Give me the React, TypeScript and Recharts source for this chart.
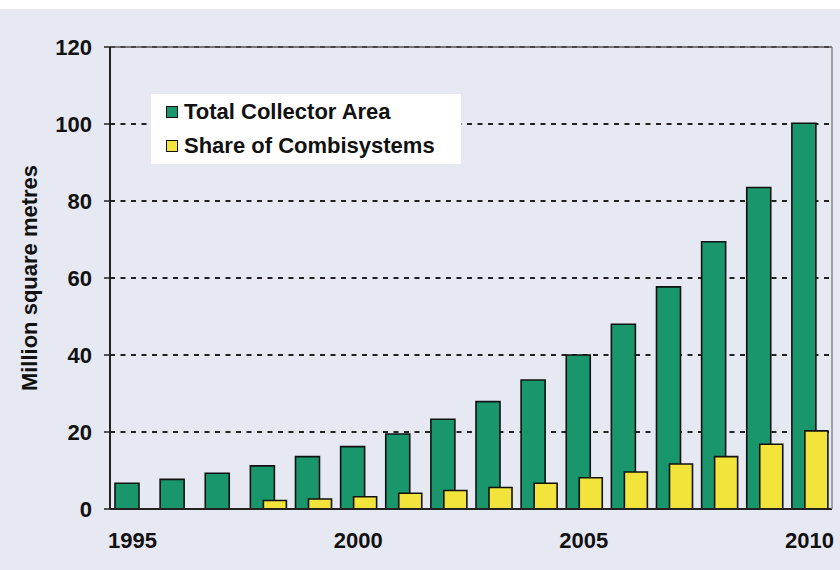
import {
  BarChart,
  Bar,
  XAxis,
  YAxis,
  CartesianGrid,
  ReferenceLine,
} from "recharts";

const years = [
  1995, 1996, 1997, 1998, 1999, 2000, 2001, 2002,
  2003, 2004, 2005, 2006, 2007, 2008, 2009, 2010,
];

const totalArea = [
  6.7, 7.7, 9.3, 11.2, 13.6, 16.2, 19.5, 23.3,
  27.9, 33.5, 40, 48, 57.7, 69.4, 83.5, 100.2,
];

const combiShare = [
  null, null, null, 2.2, 2.6, 3.2, 4.1, 4.8,
  5.6, 6.7, 8.1, 9.6, 11.7, 13.6, 16.8, 20.3,
];

const yTicks = [0, 20, 40, 60, 80, 100, 120];

const GREEN = "#19966c";
const YELLOW = "#f2e43a";
const FONT = "'Liberation Sans', Arial, sans-serif";

const legendItems = [
  { name: "Total Collector Area", color: GREEN },
  { name: "Share of Combisystems", color: YELLOW },
];

function LegendBox() {
  return (
    <div
      style={{
        position: "absolute",
        left: 151,
        top: 94,
        background: "#fff",
        width: 310,
        height: 70,
        padding: "2px 0 0 15px",
        boxSizing: "border-box",
        fontFamily: FONT,
        fontWeight: "bold",
        fontSize: 22,
        color: "#111",
      }}
    >
      {legendItems.map((item) => (
        <div
          key={item.name}
          style={{ display: "flex", alignItems: "center", height: 32, marginBottom: 2 }}
        >
          <span
            style={{
              display: "inline-block",
              width: 10,
              height: 10,
              background: item.color,
              border: "1.5px solid #111",
              marginRight: 6,
            }}
          />
          {item.name}
        </div>
      ))}
    </div>
  );
}

function YLabel() {
  return (
    <text
      x={29}
      y={278}
      transform="rotate(-90, 29, 278)"
      textAnchor="middle"
      dominantBaseline="central"
      fill="#111"
      fontSize={22}
      fontWeight="bold"
      fontFamily={FONT}
    >
      Million square metres
    </text>
  );
}

export default function App() {
  const data = years.map((year, i) => ({
    year,
    total: totalArea[i],
    combi: combiShare[i],
  }));

  return (
    <div
      style={{
        position: "absolute",
        top: 0,
        left: 0,
        width: 840,
        height: 570,
        background: "#e6e8f2",
      }}
    >
      <div style={{ position: "absolute", top: 0, left: 0, width: 840, height: 9, background: "#fff" }} />
      <BarChart
        width={840}
        height={570}
        data={data}
        margin={{ top: 47, right: 0, bottom: 31, left: 0 }}
        barGap={-11}
      >
        <CartesianGrid
          vertical={false}
          stroke="#222"
          strokeWidth={2}
          strokeDasharray="5 5.5"
        />
        <XAxis
          dataKey="year"
          interval={4}
          height={30}
          tickLine={false}
          tickSize={0}
          tickMargin={23}
          axisLine={{ stroke: "#222", strokeWidth: 2 }}
          tick={{ fill: "#111", fontSize: 22, fontWeight: "bold", fontFamily: FONT }}
        />
        <YAxis
          width={110}
          domain={[0, 120]}
          ticks={yTicks}
          tickSize={6}
          tickMargin={12}
          tickLine={{ stroke: "#222", strokeWidth: 1.5 }}
          axisLine={{ stroke: "#222", strokeWidth: 2 }}
          tick={{ fill: "#111", fontSize: 22, fontWeight: "bold", fontFamily: FONT }}
          label={<YLabel />}
        />
        <YAxis
          yAxisId="right"
          orientation="right"
          domain={[0, 120]}
          ticks={yTicks}
          width={8}
          tick={false}
          tickLine={false}
          axisLine={{ stroke: "#888", strokeWidth: 1.5 }}
        />
        <ReferenceLine y={120} stroke="#555" strokeWidth={1.5} />
        <Bar
          dataKey="total"
          fill={GREEN}
          stroke="#111"
          strokeWidth={1.6}
          barSize={24}
          isAnimationActive={false}
        />
        <Bar
          dataKey="combi"
          yAxisId="right"
          fill={YELLOW}
          stroke="#111"
          strokeWidth={1.6}
          barSize={23}
          isAnimationActive={false}
        />
      </BarChart>
      <LegendBox />
    </div>
  );
}
